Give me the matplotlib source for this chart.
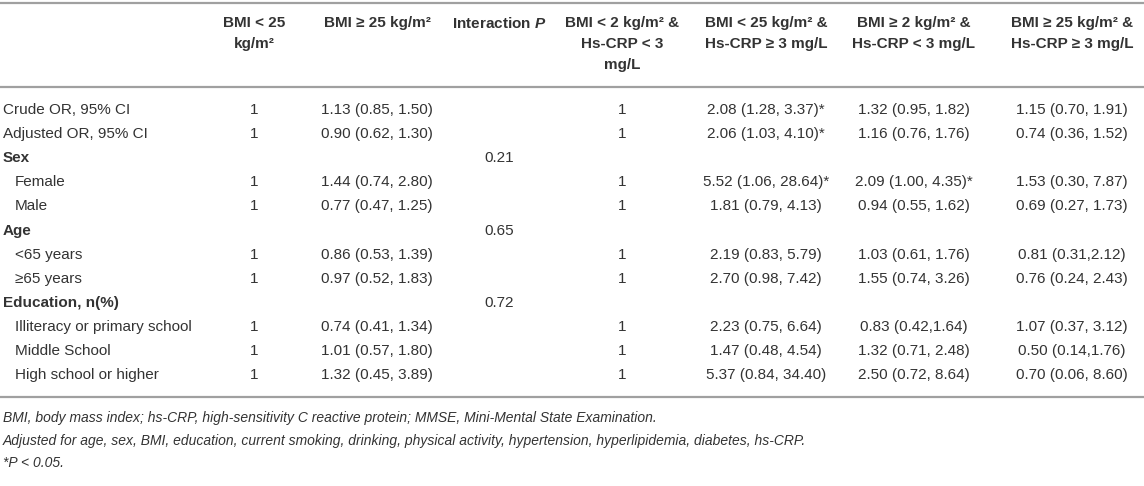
import matplotlib
matplotlib.use("Agg")
import matplotlib.pyplot as plt

plt.rcParams["font.family"] = ["Liberation Sans", "DejaVu Sans"]
plt.rcParams["mathtext.fontset"] = "custom"
plt.rcParams["mathtext.rm"] = "Liberation Sans"
plt.rcParams["mathtext.bf"] = "Liberation Sans:bold"
plt.rcParams["mathtext.bfit"] = "Liberation Sans:italic:bold"

# table content
headers = [
    "",
    "BMI < 25\nkg/m²",
    "BMI ≥ 25 kg/m²",
    r"Interaction $\mathbfit{P}$",
    "BMI < 2 kg/m² &\nHs-CRP < 3\nmg/L",
    "BMI < 25 kg/m² &\nHs-CRP ≥ 3 mg/L",
    "BMI ≥ 2 kg/m² &\nHs-CRP < 3 mg/L",
    "BMI ≥ 25 kg/m² &\nHs-CRP ≥ 3 mg/L",
]

row_labels = ["Crude OR, 95% CI", "Adjusted OR, 95% CI", "Sex", "Female", "Male",
              "Age", "<65 years", "≥65 years", "Education, n(%)",
              "Illiteracy or primary school", "Middle School", "High school or higher"]
group_rows = ["Sex", "Age", "Education, n(%)"]
indented = ["Female", "Male", "<65 years", "≥65 years",
            "Illiteracy or primary school", "Middle School", "High school or higher"]

bmi_low = ["1", "1", "", "1", "1", "", "1", "1", "", "1", "1", "1"]
bmi_high = ["1.13 (0.85, 1.50)", "0.90 (0.62, 1.30)", "", "1.44 (0.74, 2.80)",
            "0.77 (0.47, 1.25)", "", "0.86 (0.53, 1.39)", "0.97 (0.52, 1.83)", "",
            "0.74 (0.41, 1.34)", "1.01 (0.57, 1.80)", "1.32 (0.45, 3.89)"]
interaction_p = ["", "", "0.21", "", "", "0.65", "", "", "0.72", "", "", ""]
low_low = ["1", "1", "", "1", "1", "", "1", "1", "", "1", "1", "1"]
low_high = ["2.08 (1.28, 3.37)*", "2.06 (1.03, 4.10)*", "", "5.52 (1.06, 28.64)*",
            "1.81 (0.79, 4.13)", "", "2.19 (0.83, 5.79)", "2.70 (0.98, 7.42)", "",
            "2.23 (0.75, 6.64)", "1.47 (0.48, 4.54)", "5.37 (0.84, 34.40)"]
high_low = ["1.32 (0.95, 1.82)", "1.16 (0.76, 1.76)", "", "2.09 (1.00, 4.35)*",
            "0.94 (0.55, 1.62)", "", "1.03 (0.61, 1.76)", "1.55 (0.74, 3.26)", "",
            "0.83 (0.42,1.64)", "1.32 (0.71, 2.48)", "2.50 (0.72, 8.64)"]
high_high = ["1.15 (0.70, 1.91)", "0.74 (0.36, 1.52)", "", "1.53 (0.30, 7.87)",
             "0.69 (0.27, 1.73)", "", "0.81 (0.31,2.12)", "0.76 (0.24, 2.43)", "",
             "1.07 (0.37, 3.12)", "0.50 (0.14,1.76)", "0.70 (0.06, 8.60)"]

footnotes = [
    "BMI, body mass index; hs-CRP, high-sensitivity C reactive protein; MMSE, Mini-Mental State Examination.",
    "Adjusted for age, sex, BMI, education, current smoking, drinking, physical activity, hypertension, hyperlipidemia, diabetes, hs-CRP.",
    "*P < 0.05.",
]

columns = [bmi_low, bmi_high, interaction_p, low_low, low_high, high_low, high_high]

# layout (pixels)
W, H = 1144, 486
col_x = [254, 377, 499, 622, 766, 914, 1072]
label_x, indent_x = 3, 15
header_y = 23
line_step = 21
row0_y, row_step = 110, 24.1
text_color = "#333333"
rule_color = "#a0a0a0"
fs = 11

fig = plt.figure(figsize=(W / 100, H / 100), dpi=100)
ax = fig.add_axes([0, 0, 1, 1])
ax.set_xlim(0, W)
ax.set_ylim(H, 0)
ax.axis("off")

# rules
for y in [3, 87, 397]:
    ax.plot([0, W], [y, y], color=rule_color, lw=1.6, solid_capstyle="butt")

# header
for x, h in zip(col_x, headers[1:]):
    for k, line in enumerate(h.split("\n")):
        ax.text(x, header_y + k * line_step, line, ha="center", va="center",
                fontsize=fs, fontweight="bold", color=text_color)

# body
for i, lab in enumerate(row_labels):
    y = row0_y + i * row_step
    if lab in group_rows:
        ax.text(label_x, y, lab, ha="left", va="center", fontsize=fs,
                fontweight="bold", color=text_color)
    else:
        x0 = indent_x if lab in indented else label_x
        ax.text(x0, y, lab, ha="left", va="center", fontsize=fs, color=text_color)
    for x, col in zip(col_x, columns):
        if col[i]:
            ax.text(x, y, col[i], ha="center", va="center", fontsize=fs,
                    color=text_color)

# footnotes
for k, note in enumerate(footnotes):
    ax.text(label_x, 418 + k * 22.5, note, ha="left", va="center",
            fontsize=10, style="italic", color=text_color)

fig.savefig("out.png", dpi=100)
